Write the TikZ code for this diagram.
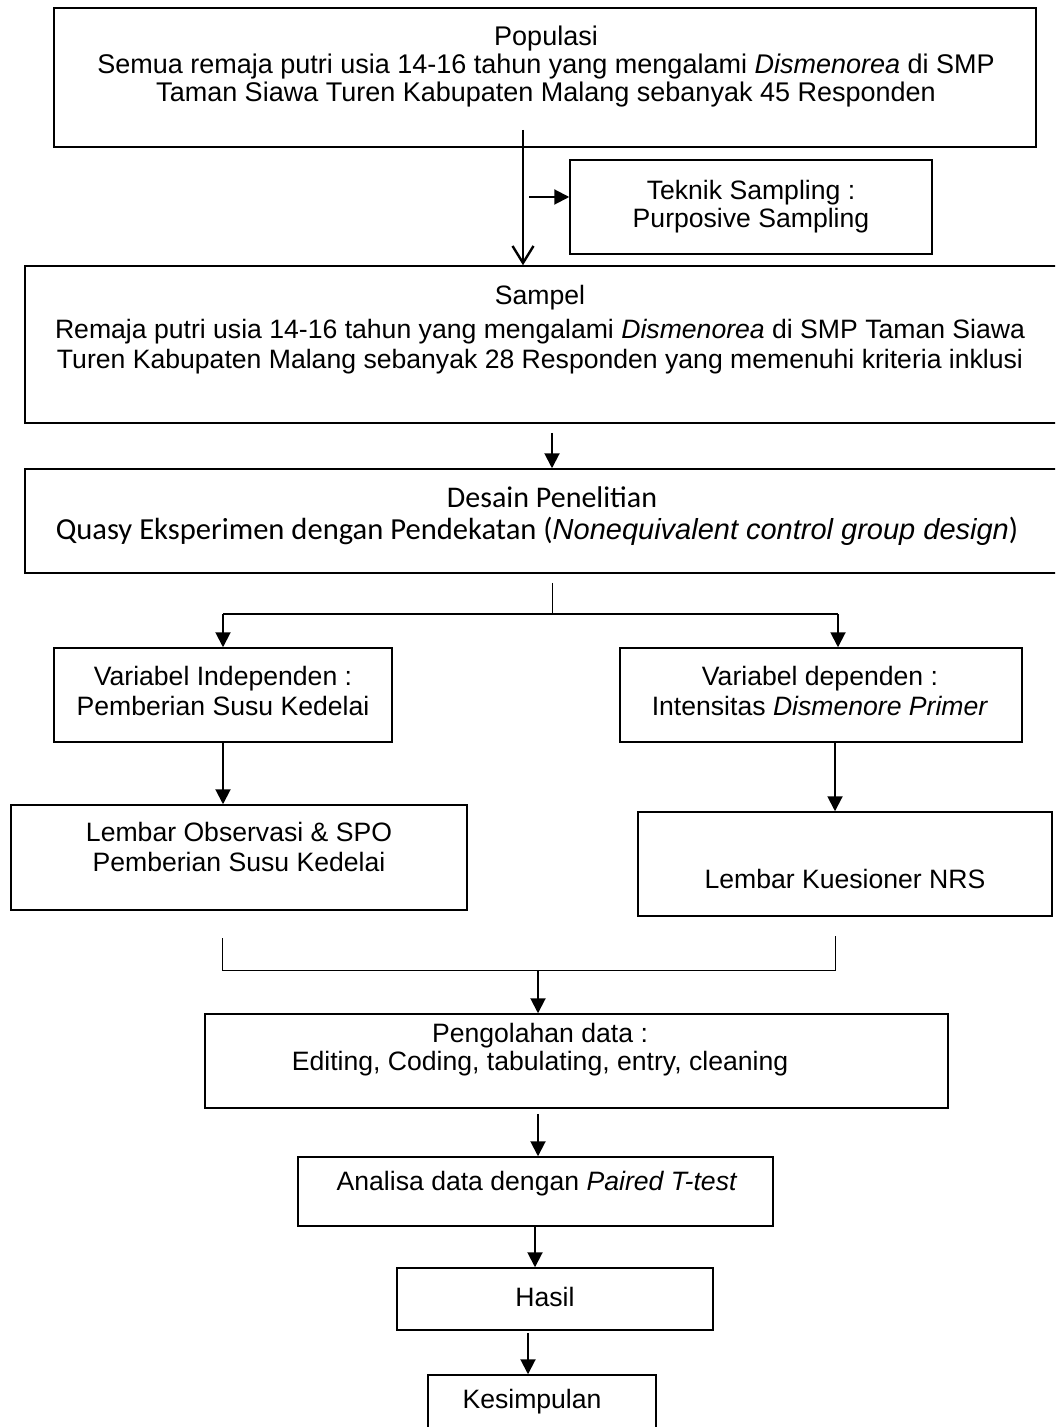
\documentclass[tikz,border=0pt]{standalone}
\usepackage{fontspec}
\setmainfont{Liberation Sans}
\newfontfamily\calibri{Carlito}
\usetikzlibrary{arrows.meta,fit}

\tikzset{
  box/.style={draw, line width=0.75pt, inner sep=0pt},
  txt/.style={align=center, inner sep=0pt, font=\fontsize{13.3}{14}\selectfont},
  txtwide/.style={txt, font=\fontsize{13.3}{15}\selectfont},
  arr/.style={line width=1pt, -{Triangle[length=7.5pt,width=7.5pt]}},
  barb/.style={line width=1.2pt, -{Straight Barb[length=8.5pt,width=10.5pt]}},
  thinline/.style={line width=0.5pt},
}

\begin{document}
\begin{tikzpicture}[x=0.5pt, y=-0.5pt]
\useasboundingbox (0,0) rectangle (1055,1427);
\clip (0,0) rectangle (1055,1427);

%Declare boxes.
\node[box, fit={(54,8) (1036,147)}] (pop) {};
\node[box, fit={(570,160) (932,254)}] (teknik) {};
\node[box, fit={(25,266) (1079,423)}] (sampel) {};
\node[box, fit={(25,469) (1079,573)}] (desain) {};
\node[box, fit={(54,648) (392,742)}] (varind) {};
\node[box, fit={(620,648) (1022,742)}] (vardep) {};
\node[box, fit={(11,805) (467,910)}] (obs) {};
\node[box, fit={(638,812) (1052,916)}] (kues) {};
\node[box, fit={(205,1014) (948,1108)}] (olah) {};
\node[box, fit={(298,1157) (773,1226)}] (analisa) {};
\node[box, fit={(397,1268) (713,1330)}] (hasil) {};
\node[box, fit={(428,1375) (656,1460)}] (simpul) {};

%Declare texts.
\node[txt, font=\fontsize{13.5}{14}\selectfont] (popText) at (546,67) {Populasi\\Semua remaja putri usia 14-16 tahun yang mengalami \textit{Dismenorea} di SMP\\Taman Siawa Turen Kabupaten Malang sebanyak 45 Responden};
\node[txt] (teknikText) at (751,207) {Teknik Sampling :\\Purposive Sampling};
\node[txt] (sampelHead) at (540,298) {Sampel};
\node[txtwide] (sampelText) at (540,347) {Remaja putri usia 14-16 tahun yang mengalami \textit{Dismenorea} di SMP Taman Siawa\\Turen Kabupaten Malang sebanyak 28 Responden yang memenuhi kriteria inklusi};
\node[txt, font=\calibri\fontsize{15}{16}\selectfont] (desainHead) at (552,497) {Desain Penelitian};
\node[txt, font=\calibri\fontsize{15.3}{16}\selectfont] (desainText) at (537,531) {Quasy Eksperimen dengan Pendekatan (\textit{\fontspec{Liberation Sans}\fontsize{14.5}{16}\selectfont Nonequivalent control group design})};
\node[txtwide] (varindText) at (223,691) {Variabel Independen :\\Pemberian Susu Kedelai};
\node[txtwide] (vardepText) at (820,691) {Variabel dependen :\\Intensitas \textit{Dismenore Primer}};
\node[txtwide] (obsText) at (239,847) {Lembar Observasi \& SPO\\Pemberian Susu Kedelai};
\node[txt] (kuesText) at (845,879) {Lembar Kuesioner NRS};
\node[txt] (olahText) at (540,1050) {Pengolahan data :\\Editing, Coding, tabulating, entry, cleaning};
\node[txt] (analisaText) at (537,1184) {Analisa data dengan \textit{Paired T-test}};
\node[txt] (hasilText) at (545,1297) {Hasil};
\node[txt] (simpulText) at (532,1402) {Kesimpulan};

%Free ends.
\coordinate (popOut) at (523,130);
\coordinate (teknikIn) at (529,197);
\coordinate (split) at (552,614);
\coordinate (obsTap) at (222,938);
\coordinate (kuesTap) at (835,936);
\coordinate (mergeL) at (222,970);
\coordinate (mergeR) at (835,970);
\coordinate (merge) at (538,970);

%Setup edges.
\draw[barb] (popOut) -- (popOut |- sampel.north);
\draw[arr] (teknikIn) -- (teknikIn -| teknik.west);
\draw[arr, shorten <=4.5pt] (sampel.south) -- (desain.north);
\draw[thinline, shorten <=4.5pt] (desain.south) -- (split);
\draw[line width=1pt] (split -| varind.north) -- ([xshift=8.5pt]split -| vardep.north);
\draw[arr] (split -| varind.north) -- (varind.north);
\draw[arr] ([xshift=8.5pt]split -| vardep.north) -- ([xshift=8.5pt]vardep.north);
\draw[arr] (varind.south) -- (varind.south |- obs.north);
\draw[arr] ([xshift=7pt]vardep.south) -- ([xshift=7pt]vardep.south |- kues.north);
\draw[thinline] (obsTap) -- (mergeL) -- (mergeR) -- (kuesTap);
\draw[arr] (merge) -- (merge |- olah.north);
\draw[arr, shorten <=2.5pt] (merge |- olah.south) -- (merge |- analisa.north);
\draw[arr] (535,1226 |- analisa.south) -- (535,1226 |- hasil.north);
\draw[arr, shorten <=1pt] (528,1330 |- hasil.south) -- (528,1330 |- simpul.north);

\end{tikzpicture}
\end{document}
